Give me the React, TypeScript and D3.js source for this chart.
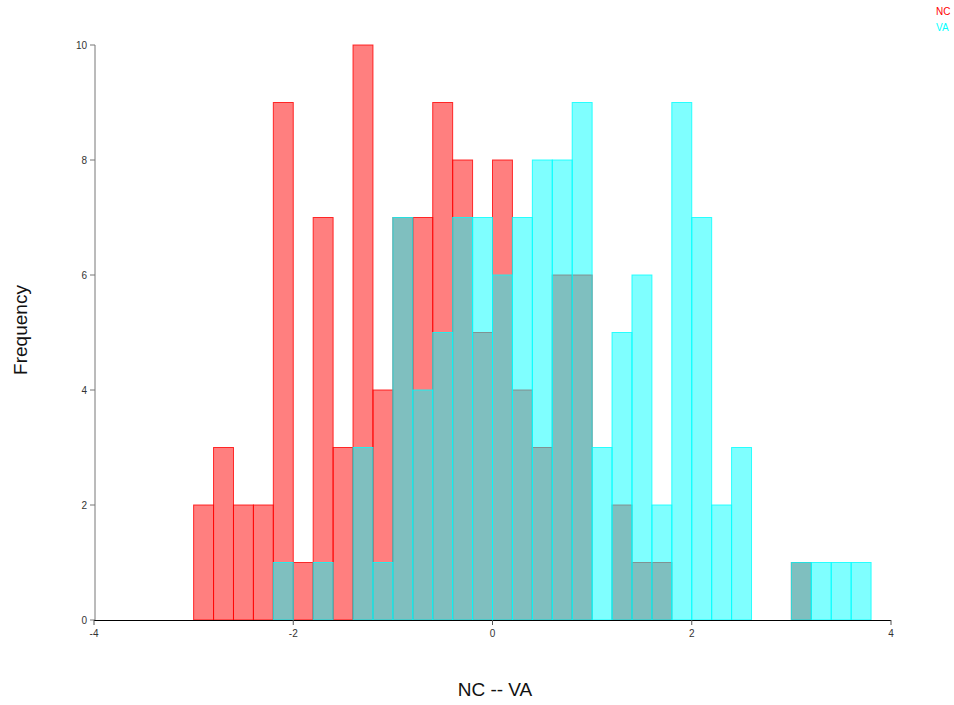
import React from "react";
import * as d3 from "d3";

// Lower edge of each histogram bin (bin width 0.2)
const binStarts = [
  -3.0, -2.8, -2.6, -2.4, -2.2, -2.0, -1.8, -1.6, -1.4, -1.2, -1.0, -0.8,
  -0.6, -0.4, -0.2, 0.0, 0.2, 0.4, 0.6, 0.8, 1.0, 1.2, 1.4, 1.6, 1.8, 2.0,
  2.2, 2.4, 2.6, 2.8, 3.0, 3.2, 3.4, 3.6,
];
const binWidth = 0.2;

const ncCounts = [
  2, 3, 2, 2, 9, 1, 7, 3, 10, 4, 7, 7, 9, 8, 5, 8, 4, 3, 6, 6, 0, 2, 1, 1, 0,
  0, 0, 0, 0, 0, 1, 0, 0, 0,
];
const vaCounts = [
  0, 0, 0, 0, 1, 0, 1, 0, 3, 1, 7, 4, 5, 7, 7, 6, 7, 8, 8, 9, 3, 5, 6, 2, 9,
  7, 2, 3, 0, 0, 1, 1, 1, 1,
];

const xTicks = [-4, -2, 0, 2, 4];
const yTicks = [0, 2, 4, 6, 8, 10];

const seriesNames = ["NC", "VA"];
const seriesColors = ["#ff0000", "#00ffff"];

const W = 954;
const H = 705;
const left = 94;
const right = 891;
const top = 45;
const bottom = 620;

export default function App() {
  const x = d3.scaleLinear().domain([-4, 4]).range([left, right]);
  const y = d3.scaleLinear().domain([0, 10]).range([bottom, top]);

  const series = [ncCounts, vaCounts];
  const font = "'Liberation Sans', Arial, sans-serif";

  return (
    <svg
      width={W}
      height={H}
      style={{ position: "absolute", left: 0, top: 0, background: "#fff" }}
      fontFamily={font}
    >
      {series.map((counts, si) => (
        <g key={si}>
          {counts.map((c, i) =>
            c > 0 ? (
              <rect
                key={i}
                x={x(binStarts[i])}
                y={y(c)}
                width={x(binStarts[i] + binWidth) - x(binStarts[i])}
                height={y(0) - y(c)}
                fill={seriesColors[si]}
                fillOpacity={0.5}
                stroke={seriesColors[si]}
                strokeOpacity={0.8}
                strokeWidth={1}
              />
            ) : null
          )}
        </g>
      ))}

      {/* y axis */}
      <line x1={left + 1} x2={left + 1} y1={top} y2={bottom} stroke="#777" strokeWidth={1} />
      {yTicks.map((t) => (
        <g key={t}>
          <line x1={left - 4} x2={left + 1} y1={y(t)} y2={y(t)} stroke="#777" />
          <text
            x={left - 7}
            y={y(t)}
            dy="0.35em"
            textAnchor="end"
            fontSize={10}
            fill="#333"
          >
            {t}
          </text>
        </g>
      ))}

      {/* x axis */}
      <line x1={left} x2={right} y1={bottom + 0.5} y2={bottom + 0.5} stroke="#000" strokeWidth={1} />
      {xTicks.map((t) => (
        <g key={t}>
          <line x1={x(t)} x2={x(t)} y1={bottom} y2={bottom + 5} stroke="#555" />
          <text x={x(t)} y={bottom + 17} textAnchor="middle" fontSize={10} fill="#333">
            {t}
          </text>
        </g>
      ))}

      {/* axis titles */}
      <text x={495} y={696} textAnchor="middle" fontSize={19} fill="#111">
        NC -- VA
      </text>
      <text
        transform={`translate(27, 330) rotate(-90)`}
        textAnchor="middle"
        fontSize={19}
        fill="#111"
      >
        Frequency
      </text>

      {/* legend */}
      {seriesNames.map((n, i) => (
        <text key={n} x={936} y={15 + i * 16} fontSize={10} fill={seriesColors[i]}>
          {n}
        </text>
      ))}
    </svg>
  );
}
